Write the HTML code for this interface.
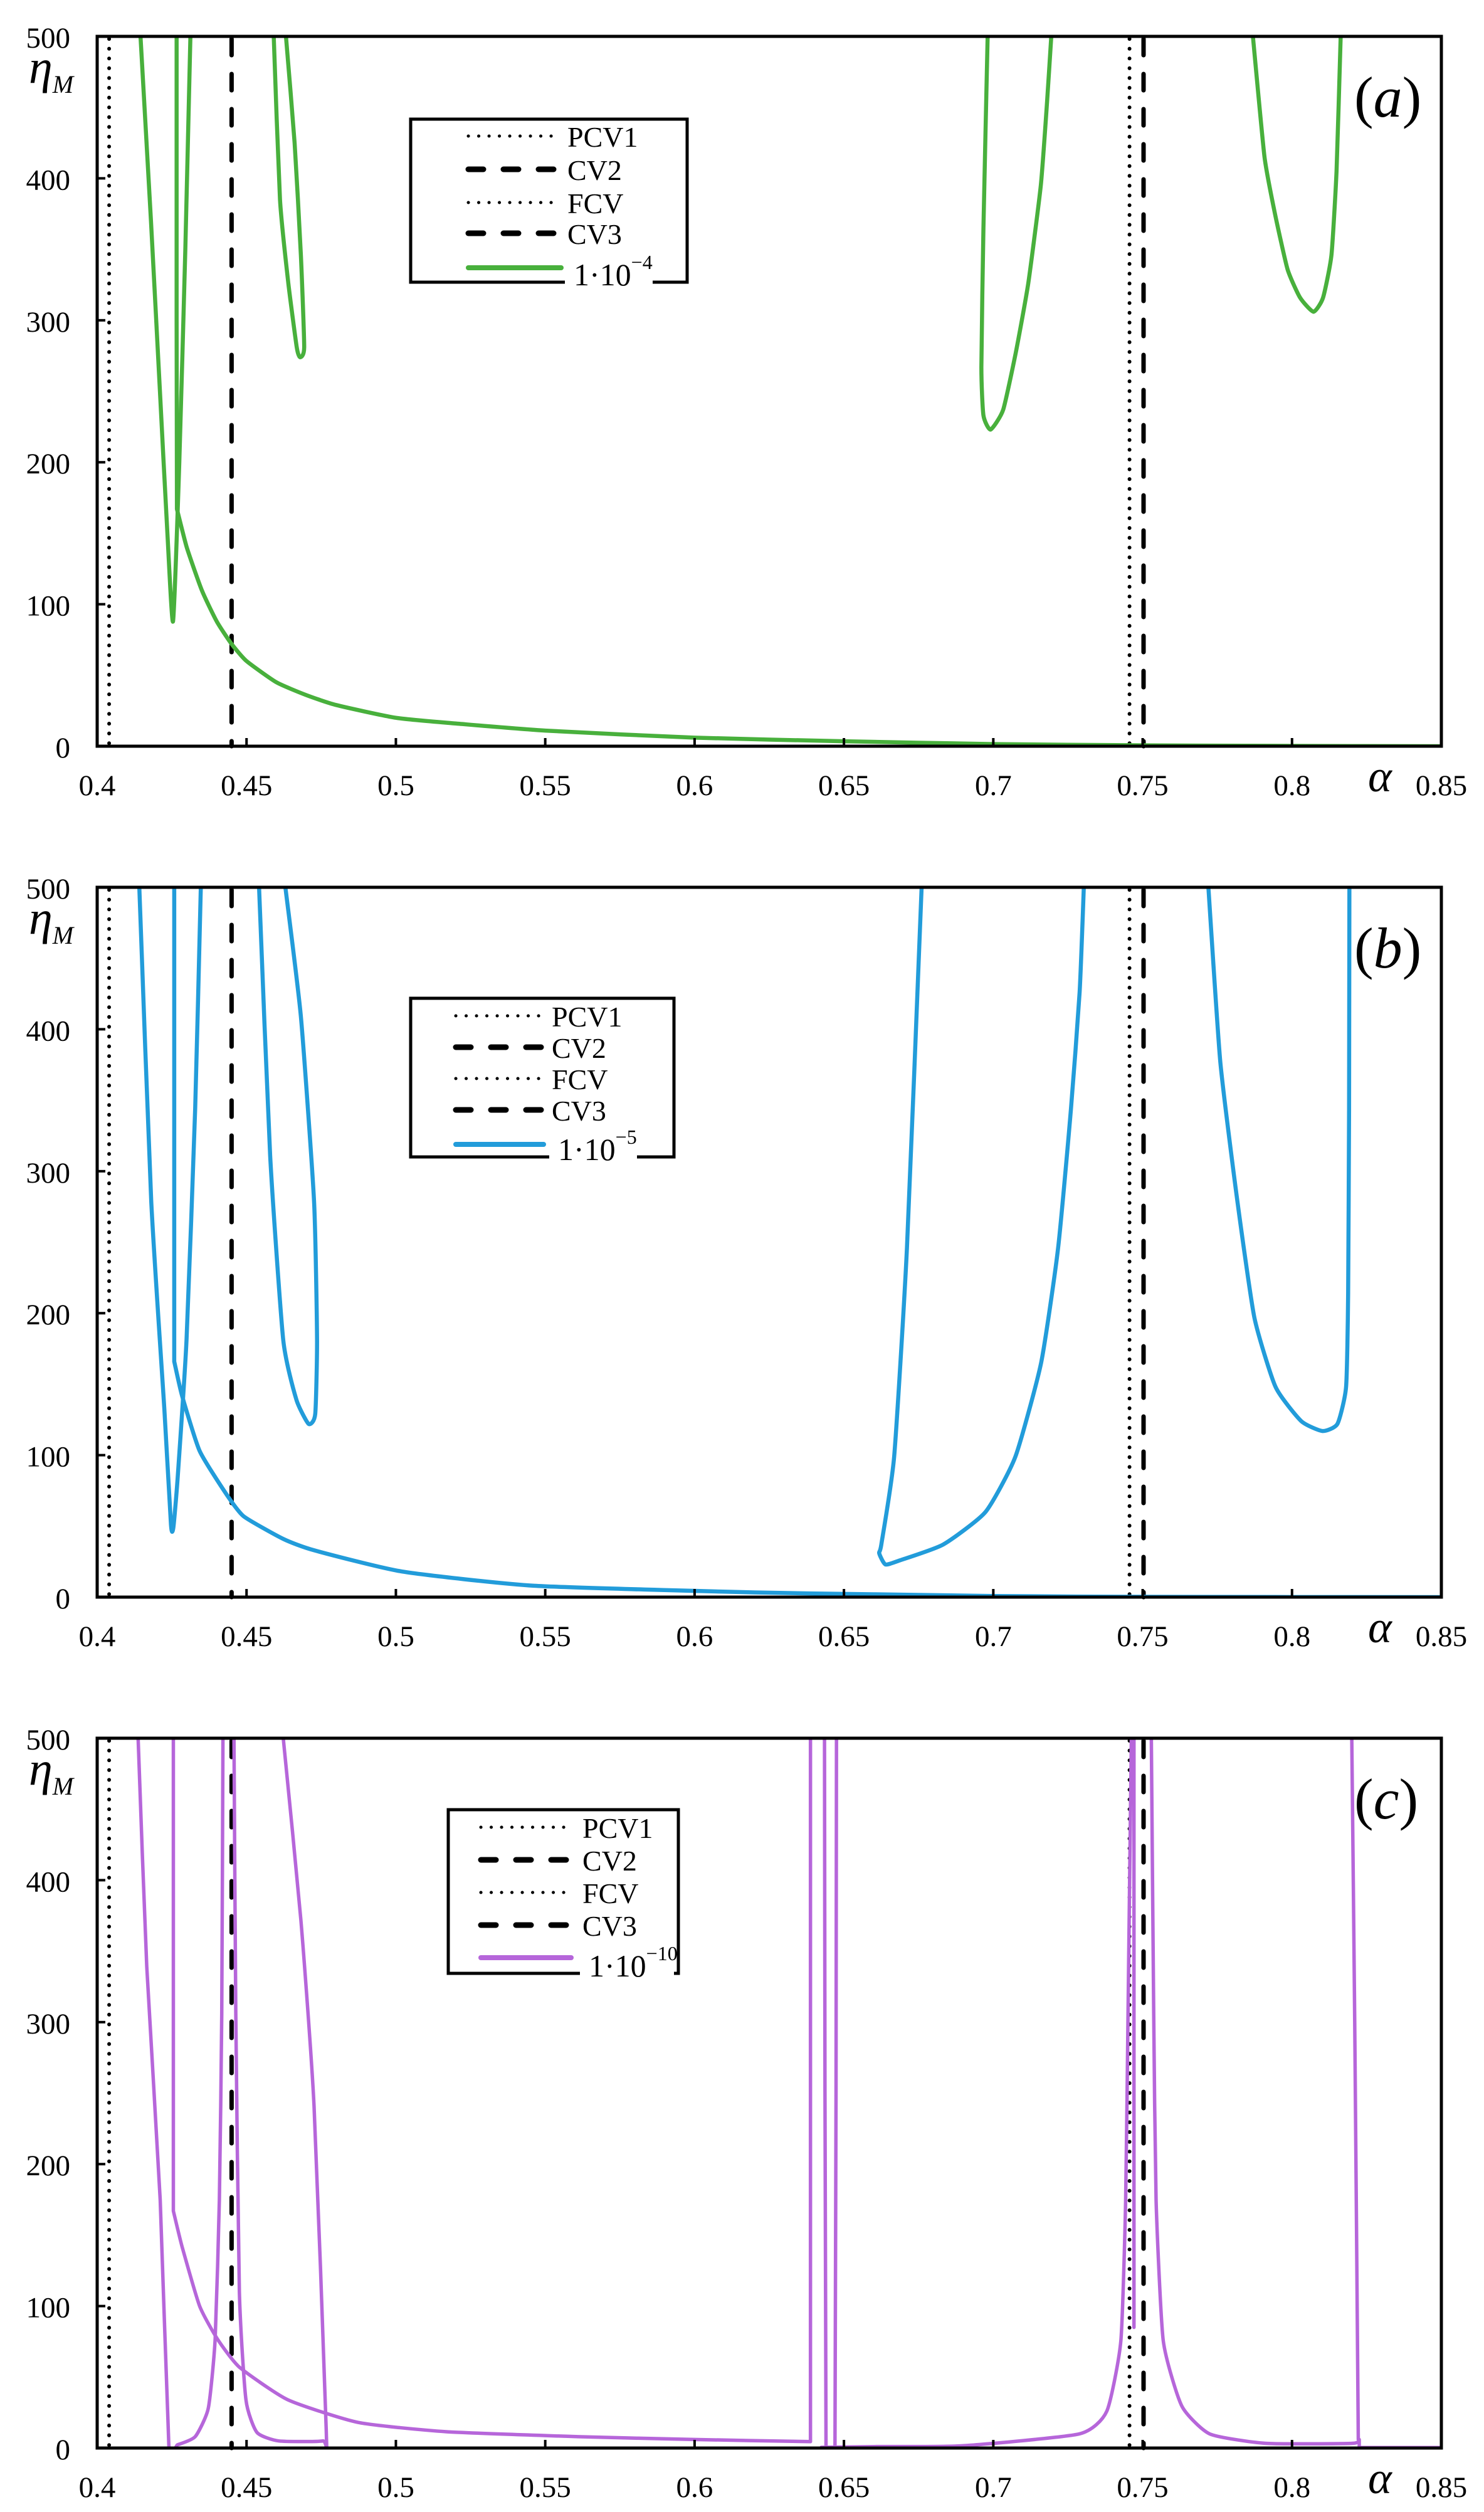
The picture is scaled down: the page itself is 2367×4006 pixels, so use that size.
<!DOCTYPE html>
<html><head><meta charset="utf-8">
<style>
html,body{margin:0;padding:0;background:#fff;}
svg{display:block;}
text{font-family:"Liberation Serif","DejaVu Serif",serif;fill:#000;}
</style></head>
<body>
<svg id="fig" width="2367" height="4006" viewBox="0 0 2367 4006" xmlns="http://www.w3.org/2000/svg"></svg>
<script>
// ---------- shared axis data ----------
const xTicks = [0.4,0.45,0.5,0.55,0.6,0.65,0.7,0.75,0.8,0.85];
const xTickLabels = ["0.4","0.45","0.5","0.55","0.6","0.65","0.7","0.75","0.8","0.85"];
const yTicks = [0,100,200,300,400,500];
const yTickLabels = ["0","100","200","300","400","500"];
const refNames = ["PCV1","CV2","FCV","CV3"];
const refAlpha = [0.404,0.445,0.7456,0.7503];
const panelLetters = ["a","b","c"];
const seriesExp = ["-4","-5","-10"];

// ---------- panel (a) data ----------
const aB1x = [0.4145,0.418,0.421,0.4235,0.4254,0.4275,0.4295,0.4312];
const aB1y = [500,370,250,150,88,200,350,500];
const aB2x = [0.4266,0.4266,0.4267,0.43,0.435,0.44,0.445,0.45,0.46,0.47,0.48,0.5,0.52,0.55,0.6,0.65,0.7,0.75,0.8,0.85];
const aB2y = [500,300,167,140,110,88,72,60,45,36,29,20,16,11,6,3.5,1.5,0.6,0.2,0];
const aB3x = [0.4591,0.4612,0.4640,0.4668,0.4679,0.4693,0.4682,0.4661,0.4632];
const aB3y = [500,385,326,281,274,281,346,425,500];
const aB4x = [0.6981,0.6967,0.6960,0.6967,0.6991,0.7033,0.7075,0.7117,0.7159,0.7180,0.7194];
const aB4y = [500,365,267,233,223,237,277,326,395,454,500];
const aB5x = [0.7869,0.7908,0.7943,0.7985,0.8027,0.8072,0.8104,0.8132,0.8149,0.8163];
const aB5y = [500,415,375,336,316,306,316,346,405,500];

// ---------- panel (b) data ----------
const bB1x = [0.4141,0.4181,0.4225,0.4247,0.4255,0.4269,0.4299,0.4328,0.4347];
const bB1y = [500,279,132,51,49,83,181,344,500];
const bB2x = [0.4258,0.4258,0.4284,0.4343,0.4431,0.4490,0.4623,0.4726,0.5021,0.5463,0.6199,0.66,0.7,0.75,0.85];
const bB2y = [500,166,142,103,73,57,41,33,18,8,3.3,2,0.8,0.2,0];
const bB3x = [0.4542,0.4579,0.4623,0.4667,0.4708,0.4730,0.4736,0.4726,0.4682,0.4630];
const bB3y = [500,311,181,139,122,129,181,279,409,500];
const bB4x = [0.6760,0.6711,0.6668,0.6625,0.6618,0.6639,0.6689,0.6832,0.6974,0.7074,0.7160,0.7217,0.7260,0.7289,0.7303];
const bB4y = [500,246,99,37,31,23,26,37,60,99,165,246,344,426,500];
const bB5x = [0.7720,0.7760,0.7817,0.7874,0.7945,0.8031,0.8102,0.8152,0.8181,0.8188,0.8191,0.8192];
const bB5y = [500,377,279,197,148,124,117,122,148,214,344,500];

// ---------- panel (c) data ----------
const cB1x = [0.4137,0.4166,0.4211,0.4240,0.4269,0.4328,0.4372,0.4395,0.4409,0.4417,0.4421];
const cB1y = [500,339,175,2,2.3,8,28,77,175,306,500];
const cB2x = [0.4255,0.4255,0.4284,0.4343,0.4402,0.4476,0.4638,0.4874,0.5169,0.561,0.60,0.6388,0.6388];
const cB2y = [500,167,142,100,77,57,34,18,11.5,8,6,4.5,500];
const cB3x = [0.4458,0.4464,0.4476,0.4498,0.4535,0.4608,0.4755,0.4767,0.4726,0.4682,0.4623];
const cB3y = [500,306,110,34,11,5,5,12,241,372,500];
const cB4x = [0.6435,0.6440,0.6470,0.6475];
const cB4y = [500,2,1,500];
const cB5x = [0.6424,0.66,0.6896,0.7287,0.7380,0.7427,0.7443,0.7451,0.7462];
const cB5y = [0.5,1,1.6,9.9,26,75.6,174,305,500];
const cB6x = [0.7471,0.7471];
const cB6y = [500,85];
const cB7x = [0.7529,0.7537,0.7545,0.7569,0.7631,0.7725,0.7912,0.8201,0.8225,0.8225,0.85];
const cB7y = [500,305,174,75.6,29.6,9.9,3.3,3.3,6,0.3,0.3];
const cB8x = [0.8200,0.8210,0.8222];
const cB8y = [500,300,6];

// ---------- layout ----------
const NS = "http://www.w3.org/2000/svg";
const svg = document.getElementById("fig");
const L = 155, R = 2299, H = 1132;
const tops = [58,1415,2772];
const colors = ["#48b03c","#229cda","#b666da"];
const legendBoxes = [
  {x:655,y:190,w:441,h:260,sx:747,sw:148,tx:905,rows:[217,270,323,372,427]},
  {x:655,y:1592,w:420,h:253,sx:727,sw:140,tx:880,rows:[1620,1670,1720,1770,1825]},
  {x:715,y:2886,w:367,h:261,sx:767,sw:144,tx:929,rows:[2914,2966,3018,3070,3122]}
];
const panelSeries = [
  [[aB1x,aB1y],[aB2x,aB2y],[aB3x,aB3y],[aB4x,aB4y],[aB5x,aB5y]],
  [[bB1x,bB1y],[bB2x,bB2y],[bB3x,bB3y],[bB4x,bB4y],[bB5x,bB5y]],
  [[cB1x,cB1y],[cB2x,cB2y],[cB3x,cB3y],[cB4x,cB4y],[cB5x,cB5y],[cB6x,cB6y],[cB7x,cB7y],[cB8x,cB8y]]
];

function el(tag, attrs, parent){
  const e = document.createElementNS(NS, tag);
  for (const k in attrs) e.setAttribute(k, attrs[k]);
  (parent||svg).appendChild(e);
  return e;
}
function xScale(a){ return L + (a-0.4)/0.45*(R-L); }
function yScaleFor(top){ return v => top + H - v/500*H; }
function isVert(a,b){ return Math.abs(a[0]-b[0]) < 0.5; }
function smoothPath(pts){
  const t = 0.55, n = pts.length;
  let d = "M" + pts[0][0].toFixed(1) + " " + pts[0][1].toFixed(1);
  for (let i=0;i<n-1;i++){
    const p1 = pts[i], p2 = pts[i+1];
    if (isVert(p1,p2)) { d += " L" + p2[0].toFixed(1) + " " + p2[1].toFixed(1); continue; }
    let p0 = pts[Math.max(0,i-1)], p3 = pts[Math.min(n-1,i+2)];
    if (isVert(p0,p1)) p0 = p1;
    if (isVert(p2,p3)) p3 = p2;
    const c1x = p1[0] + (p2[0]-p0[0])/6*t, c1y = p1[1] + (p2[1]-p0[1])/6*t;
    const c2x = p2[0] - (p3[0]-p1[0])/6*t, c2y = p2[1] - (p3[1]-p1[1])/6*t;
    d += " C" + c1x.toFixed(1)+" "+c1y.toFixed(1)+" "+c2x.toFixed(1)+" "+c2y.toFixed(1)+" "+p2[0].toFixed(1)+" "+p2[1].toFixed(1);
  }
  return d;
}

const defs = el("defs",{});
tops.forEach((t,i)=>{
  const cp = el("clipPath",{id:"clip"+i},defs);
  el("rect",{x:L,y:t-2,width:R-L,height:H+4},cp);
});

tops.forEach((top,pi)=>{
  const ys = yScaleFor(top);
  const g = el("g",{});
  
  

  refAlpha.forEach((a,ri)=>{
    const dotted = (ri===0 || ri===2);
    const ln = el("line",{x1:xScale(a),x2:xScale(a),y1:top+4,y2:top+H,
      stroke:"#000","stroke-width":dotted?6:7,"stroke-linecap":"round",
      "stroke-dasharray":dotted?"0.1 15.5":"26 30"},g);
    
    
  });

  panelSeries[pi].forEach((br,bi)=>{
    const xs = br[0], vs = br[1];
    const pts = xs.map((x,k)=>[xScale(x), ys(vs[k])]);
    const p = el("path",{d:smoothPath(pts),fill:"none",stroke:colors[pi],"stroke-width":pi===2?5.5:6.5,
      "stroke-linejoin":"round","stroke-linecap":"round","clip-path":"url(#clip"+pi+")"},g);
    
    
  });

  const fr = el("rect",{x:L,y:top,width:R-L,height:H,fill:"none",stroke:"#000","stroke-width":5},g);
  
  

  xTicks.forEach((t,i)=>{
    const x = xScale(t);
    if (i>0 && i<xTicks.length-1){
      const tk = el("line",{x1:x,x2:x,y1:top+H,y2:top+H-13,stroke:"#000","stroke-width":4},g);
      
      
    }
    const tx = el("text",{x:x,y:top+H+78,"font-size":47,"text-anchor":"middle"},g);
    tx.textContent = xTickLabels[i];
    
    
  });
  yTicks.forEach((t,i)=>{
    const y = ys(t);
    if (i>0 && i<yTicks.length-1){
      const tk = el("line",{x1:L,x2:L+13,y1:y,y2:y,stroke:"#000","stroke-width":4},g);
      
      
    }
    const tx = el("text",{x:112,y:y+18,"font-size":47,"text-anchor":"end"},g);
    tx.textContent = yTickLabels[i];
    
    
  });

  const yt = el("text",{x:46,y:top+74,"font-size":76,"font-style":"italic"},g);
  
  
  yt.appendChild(document.createTextNode("\u03B7"));
  const ysub = el("tspan",{"font-size":40,dy:16},yt);
  ysub.textContent = "M";

  const xt = el("text",{x:2182,y:top+H+72,"font-size":72,"font-style":"italic"},g);
  xt.textContent = "\u03B1";
  
  

  const pl = el("text",{x:2160,y:top+128,"font-size":92},g);
  
  
  pl.appendChild(document.createTextNode("("));
  const pli = el("tspan",{"font-style":"italic"},pl);
  pli.textContent = panelLetters[pi];
  pl.appendChild(document.createTextNode(")"));

  const lb = legendBoxes[pi];
  const lg = el("g",{},g);
  
  
  el("rect",{x:lb.x,y:lb.y,width:lb.w,height:lb.h,fill:"#fff",stroke:"#000","stroke-width":5},lg);
  refNames.forEach((n,ri)=>{
    const dotted = (ri===0 || ri===2);
    const yy = lb.rows[ri];
    const s = el("line",{x1:lb.sx,x2:lb.sx+lb.sw,y1:yy,y2:yy,stroke:"#000",
      "stroke-width":dotted?5:9,"stroke-linecap":"round",
      "stroke-dasharray":dotted?"0.1 16.4":"24 32"},lg);
    
    
    const t = el("text",{x:lb.tx,y:yy+17,"font-size":46},lg);
    t.textContent = n;
    
    
  });
  const yy = lb.rows[4];
  const ss = el("line",{x1:lb.sx,x2:lb.sx+lb.sw,y1:yy,y2:yy,stroke:colors[pi],"stroke-width":8,"stroke-linecap":"round"},lg);
  
  
  const lblW = pi===2?150:140;
  el("rect",{x:lb.tx-4,y:yy-30,width:lblW,height:lb.y+lb.h-yy+40,fill:"#fff"},lg);
  const st = el("text",{x:lb.tx+10,y:lb.y+lb.h+5,"font-size":50},lg);
  
  
  st.appendChild(document.createTextNode("1\u00B710"));
  const sup = el("tspan",{"font-size":32,dy:-26},st);
  sup.textContent = "\u2212" + seriesExp[pi].slice(1);
});
</script>
</body></html>
